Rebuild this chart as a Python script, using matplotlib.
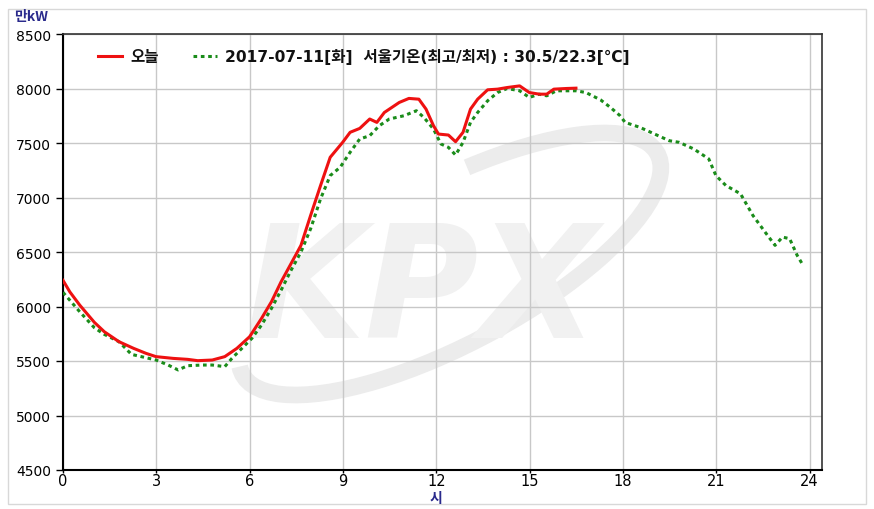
import matplotlib.pyplot as plt
from matplotlib.patches import Rectangle, Arc

plt.rcParams['font.family'] = ['Noto Sans CJK KR', 'DejaVu Sans']

# 오늘 (today), hours / 만kW
today_h = [0.0, 0.22, 0.54, 1.01, 1.33, 1.80, 2.27, 2.67, 2.99, 3.54, 4.01, 4.33,
           4.80, 5.20, 5.59, 6.00, 6.38, 6.70, 7.01, 7.33, 7.65, 7.96, 8.28, 8.59,
           8.99, 9.23, 9.54, 9.86, 10.09, 10.33, 10.81, 11.12, 11.44, 11.67, 11.91,
           12.07, 12.39, 12.62, 12.86, 13.10, 13.33, 13.65, 13.97, 14.28, 14.68,
           14.99, 15.31, 15.55, 15.78, 16.18, 16.49]
today_v = [6240, 6134, 6012, 5854, 5768, 5677, 5616, 5570, 5540, 5524, 5515, 5503,
           5509, 5540, 5616, 5723, 5890, 6043, 6226, 6393, 6561, 6835, 7110, 7369,
           7506, 7598, 7634, 7720, 7689, 7780, 7872, 7909, 7902, 7811, 7659,
           7582, 7573, 7512, 7598, 7811, 7902, 7988, 7994, 8009, 8024,
           7963, 7948, 7948, 7994, 8000, 8003]

# 2017-07-11 reference day
ref_h = [0.0, 0.54, 1.01, 1.33, 1.80, 2.20, 2.67, 2.99, 3.38, 3.70, 4.01, 4.49,
         4.80, 5.20, 5.43, 5.75, 6.07, 6.38, 6.70, 7.01, 7.33, 7.65, 7.96, 8.28,
         8.59, 8.91, 9.23, 9.54, 9.86, 10.17, 10.49, 10.96, 11.36, 11.60, 11.91,
         12.15, 12.39, 12.62, 12.86, 13.10, 13.33, 13.65, 13.97, 14.28, 14.68,
         14.99, 15.31, 15.55, 15.86, 16.18, 16.49, 16.81, 17.28, 17.60, 17.91,
         18.07, 18.55, 19.02, 19.49, 19.81, 20.28, 20.76, 20.99, 21.31, 21.78,
         22.18, 22.57, 22.89, 23.13, 23.36, 23.60, 23.76]
ref_v = [6130, 5951, 5805, 5744, 5677, 5561, 5530, 5509, 5463, 5418, 5457, 5463,
         5463, 5448, 5524, 5616, 5707, 5829, 5982, 6149, 6332, 6500, 6713, 6988,
         7201, 7277, 7415, 7537, 7567, 7659, 7720, 7750, 7796, 7735, 7628,
         7491, 7460, 7390, 7506, 7689, 7780, 7887, 7963, 8000, 7979,
         7918, 7948, 7933, 7979, 7979, 7979, 7963, 7896, 7826, 7750,
         7689, 7643, 7582, 7521, 7506, 7445, 7354, 7201, 7110, 7034,
         6835, 6683, 6561, 6637, 6622, 6470, 6393]

x_ticks = [0, 3, 6, 9, 12, 15, 18, 21, 24]
y_ticks = [4500, 5000, 5500, 6000, 6500, 7000, 7500, 8000, 8500]

fig = plt.figure(figsize=(8.74, 5.10), dpi=100)

# watermark layer in pixel coordinates, under the chart
wm = fig.add_axes([0, 0, 1, 1], zorder=0)
wm.set_xlim(0, 874)
wm.set_ylim(0, 510)
wm.axis('off')
wm.text(422, 215, 'KPX', fontsize=112, fontweight='bold', style='italic', color='#f1f1f1',
        ha='center', va='center', family='DejaVu Sans')
wm.add_patch(Arc((450, 245), 470, 160, angle=28, theta1=178, theta2=52,
                 color='#ececec', linewidth=12))

ax = fig.add_axes([63 / 874, 1 - 471 / 510, (822 - 63) / 874, (471 - 35) / 510], zorder=1)
ax.set_facecolor('none')

# outer border
fig.patches.append(Rectangle((8 / 874, 5 / 510), 858 / 874, 495 / 510, transform=fig.transFigure,
                             fill=False, edgecolor='#d8d8d8', linewidth=1))

ax.plot(ref_h, ref_v, color='#1a8c1a', linestyle=(0, (1.2, 1.2)), linewidth=2.2,
        label='2017-07-11[화]  서울기온(최고/최저) : 30.5/22.3[℃]', zorder=3)
ax.plot(today_h, today_v, color='#ee1111', linewidth=2.2, label='오늘', zorder=4)

ax.set_xlim(0, 24.4)
ax.set_ylim(4500, 8500)
ax.set_xticks(x_ticks)
ax.set_yticks(y_ticks)
ax.tick_params(axis='y', labelsize=10, length=5, width=1, colors='black')
ax.tick_params(axis='x', labelsize=10.5, length=2, width=1, pad=0.5, colors='black')
for lbl in ax.get_yticklabels():
    lbl.set_family('DejaVu Sans')
for lbl in ax.get_xticklabels():
    lbl.set_family(['Liberation Sans Narrow', 'DejaVu Sans'])
ax.grid(True, color='#c8c8c8', linewidth=1)
ax.set_axisbelow(True)
for side in ['left', 'bottom']:
    ax.spines[side].set_linewidth(1.5)
    ax.spines[side].set_color('black')
for side in ['top', 'right']:
    ax.spines[side].set_linewidth(1.2)
    ax.spines[side].set_color('#333333')

handles, labels = ax.get_legend_handles_labels()
leg = ax.legend(handles[::-1], labels[::-1], ncol=2, loc='upper left', bbox_to_anchor=(0.028, 1.0),
                frameon=False, handlelength=1.55, columnspacing=2.2, handletextpad=0.5,
                prop={'weight': 'bold', 'size': 11.2, 'family': ['DejaVu Sans', 'Noto Sans CJK KR']})
for t in leg.get_texts():
    t.set_color('#111111')

fig.text(14 / 874, 1 - 17 / 510, '만kW', color='#2a2a8c', fontsize=10, fontweight='bold', va='center')
fig.text(436 / 874, 1 - 499 / 510, '시', color='#2a2a8c', fontsize=10, fontweight='bold', ha='center', va='center')

fig.savefig('out.png', dpi=100)
